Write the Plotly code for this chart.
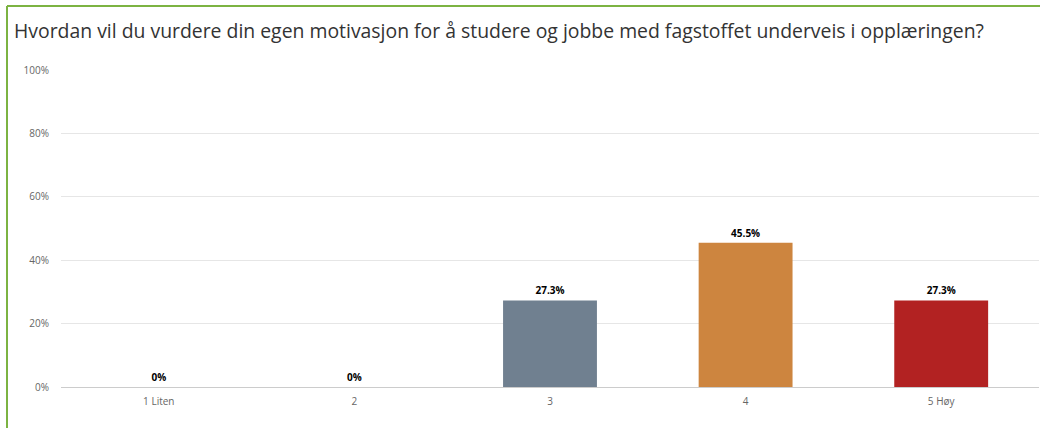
import plotly.graph_objects as go

kategorier = ["1 Liten", "2", "3", "4", "5 Høy"]
andel = [0, 0, 27.3, 45.5, 27.3]
etiketter = ["0%", "0%", "27.3%", "45.5%", "27.3%"]
farger = ["#7cb5ec", "#434348", "#708090", "#cd853f", "#b22222"]
y_ticks = [0, 20, 40, 60, 80, 100]
y_tekst = ["0%", "20%", "40%", "60%", "80%", "100%"]

tittel = "Hvordan vil du vurdere din egen motivasjon for å studere og jobbe med fagstoffet underveis i opplæringen?"

fig = go.Figure()

fig.add_trace(go.Bar(
    x=kategorier,
    y=andel,
    text=etiketter,
    textposition="outside",
    textfont=dict(family="Open Sans, sans-serif", size=10, color="#000000", weight="bold"),
    marker=dict(color=farger, line=dict(width=0)),
    cliponaxis=False,
    hoverinfo="skip",
))

# grønn ramme rundt panelet (bare topp og venstre er synlig)
W, H = 1040, 428
ml, mr, mt, mb = 61, 1, 70, 41
pw, ph = W - ml - mr, H - mt - mb
px = lambda v: (v - ml) / pw
py = lambda v: (H - mb - v) / ph
gronn = "#7cb342"
fig.add_shape(type="line", xref="paper", yref="paper",
              x0=px(7), x1=px(1045), y0=py(6), y1=py(6),
              line=dict(color=gronn, width=2), layer="above")
fig.add_shape(type="line", xref="paper", yref="paper",
              x0=px(7), x1=px(7), y0=py(6), y1=py(435),
              line=dict(color=gronn, width=2), layer="above")

fig.update_layout(
    width=W, height=H,
    margin=dict(l=ml, r=mr, t=mt, b=mb),
    paper_bgcolor="white",
    plot_bgcolor="white",
    showlegend=False,
    bargap=0.52,
    title=dict(
        text=tittel,
        x=14 / W, xref="container", xanchor="left",
        y=1 - 31 / H, yanchor="middle",
        font=dict(family="Open Sans, sans-serif", size=19.4, color="#333333"),
    ),
    font=dict(family="Open Sans, sans-serif", size=10, color="#666666"),
)

fig.update_xaxes(
    showgrid=False,
    showline=True, linecolor="#cccccc", linewidth=1,
    ticks="", tickfont=dict(size=10, color="#666666"),
    ticklabelstandoff=5,
    fixedrange=True,
)
fig.update_yaxes(
    range=[0, 100],
    tickvals=y_ticks, ticktext=y_tekst,
    showgrid=True, gridcolor="#e6e6e6", gridwidth=1,
    zeroline=False,
    showline=False,
    ticks="", tickfont=dict(size=10, color="#666666"),
    ticklabelstandoff=11,
    fixedrange=True,
)

fig.write_html(
    "out.html",
    config={"displayModeBar": False},
    post_script="document.body.style.margin='0';",
)
